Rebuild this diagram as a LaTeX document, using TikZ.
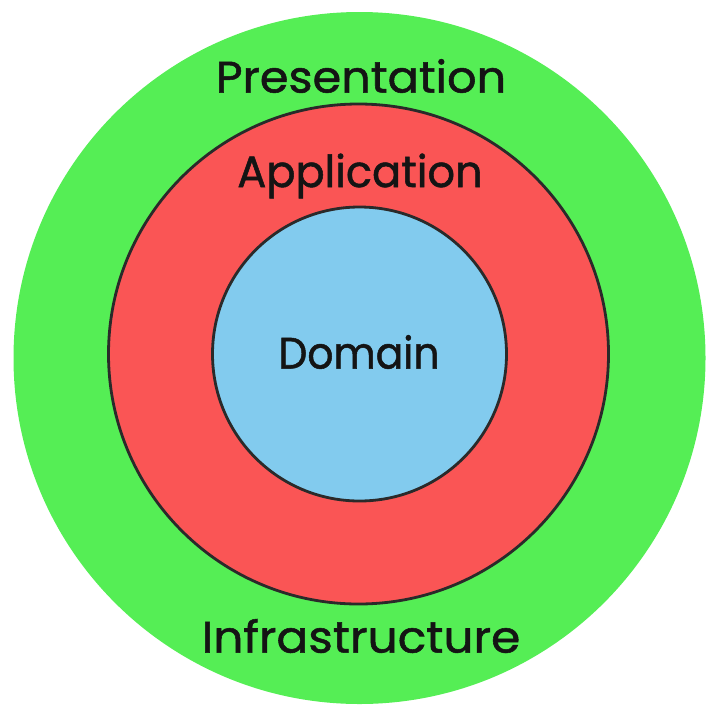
\documentclass[tikz,border=0pt]{standalone}
\usepackage{fontspec}
\setmainfont{Poppins}[FakeBold=1.2]
\definecolor{ringgreen}{HTML}{55EE55}
\definecolor{ringred}{HTML}{FA5555}
\definecolor{ringblue}{HTML}{82CBEE}
\definecolor{inkdark}{HTML}{2A2A2A}
\definecolor{textink}{HTML}{141414}
\begin{document}
\begin{tikzpicture}[x=1pt,y=-1pt,
  ring/.style={circle, inner sep=0pt, outer sep=0pt},
  label/.style={text=textink, font=\fontsize{44}{50}\selectfont, inner sep=0pt}]
\useasboundingbox (0,0) rectangle (719,718);
\node[ring, fill=ringgreen, minimum size=692pt] (outer) at (359.5,358) {};
\node[ring, fill=ringred, draw=inkdark, line width=2.8pt, minimum size=500pt] (middle) at (358.5,354) {};
\node[ring, fill=ringblue, draw=inkdark, line width=2.8pt, minimum size=294pt] (inner) at (359.5,354) {};
\node[label, xscale=1.05] (pres) at (361,76) {Presentation};
\node[label, xscale=0.98] (app) at (360,176) {Application};
\node[label, xscale=0.93] (dom) at (359,352) {Domain};
\node[label, xscale=1.07] (infra) at (361,636) {Infrastructure};
\end{tikzpicture}
\end{document}
